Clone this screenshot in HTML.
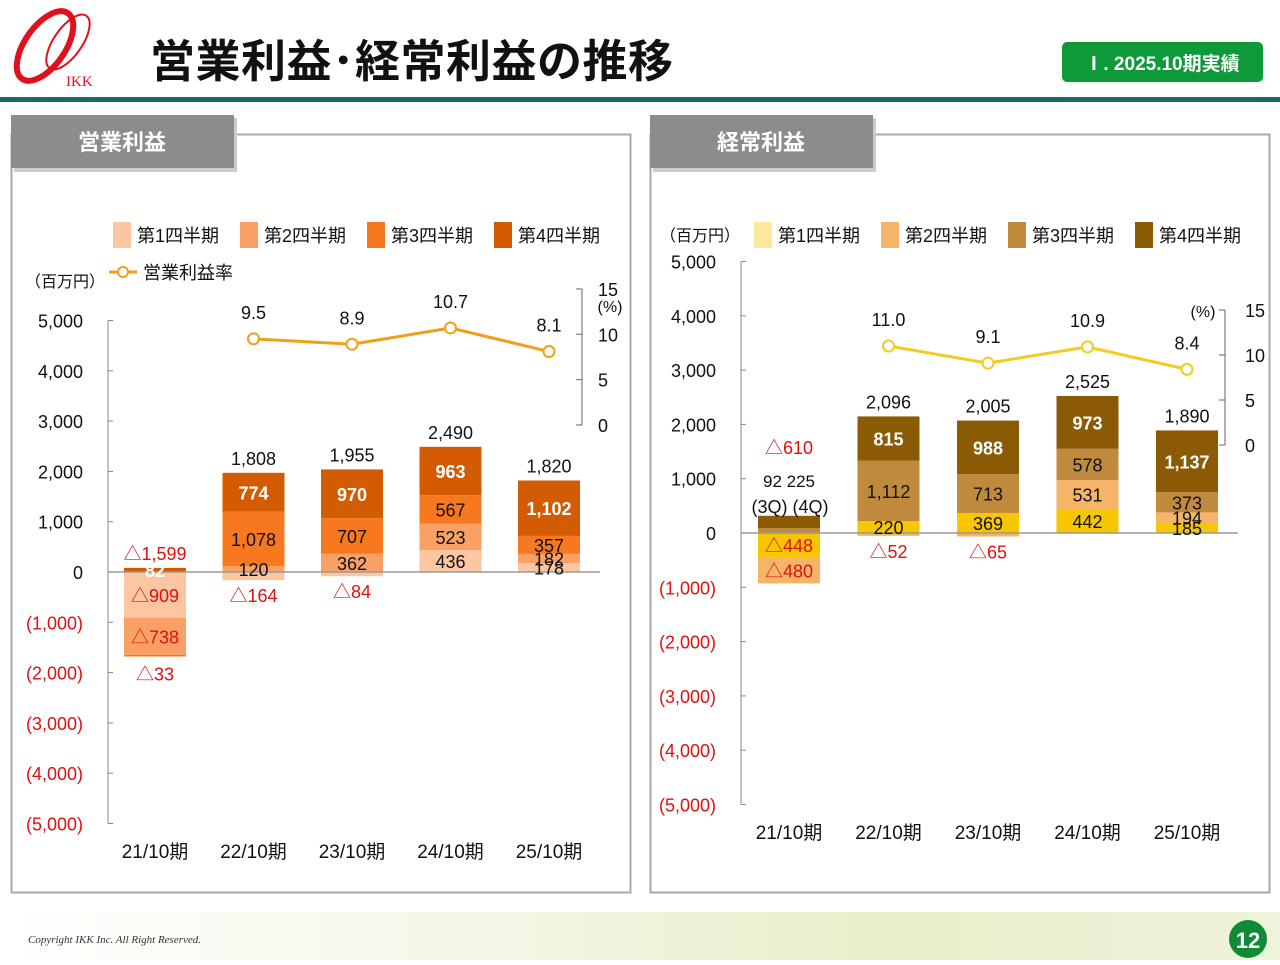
<!DOCTYPE html>
<html><head><meta charset="utf-8">
<style>
body{margin:0;background:#fff;}
svg text{font-family:"Liberation Sans","Noto Sans CJK JP",sans-serif;}
</style></head>
<body>
<svg id="s" width="1280" height="960" viewBox="0 0 1280 960" xmlns="http://www.w3.org/2000/svg">
<defs>
<linearGradient id="ft" x1="0" x2="1" y1="0" y2="0">
<stop offset="0" stop-color="#ffffff"/><stop offset="0.4" stop-color="#f2f6e4"/><stop offset="0.7" stop-color="#e6efc8"/><stop offset="1" stop-color="#eef3dc"/>
</linearGradient>
</defs>
<g>
<ellipse cx="45" cy="46" rx="20" ry="40" transform="rotate(35 45 46)" fill="none" stroke="#e0101c" stroke-width="6"/>
<ellipse cx="68" cy="42" rx="14" ry="32" transform="rotate(35 68 42)" fill="none" stroke="#e0101c" stroke-width="2"/>
<text x="66" y="86" font-size="15" fill="#e0101c" style="font-family:'Liberation Serif',serif">IKK</text>
</g>
<text x="150" y="77" font-size="45" font-weight="bold" fill="#111" letter-spacing="0.5">営業利益･経常利益の推移</text>
<rect x="1062" y="42" width="201" height="40" rx="5" fill="#0f9a3a"/>
<text x="1162" y="70" font-size="19" font-weight="bold" fill="#fff" text-anchor="middle">Ⅰ. 2025.10期実績</text>
<rect x="0" y="97" width="1280" height="5" fill="#1a6b64"/>

<g>
<rect x="11.5" y="134.5" width="619" height="758" fill="#fff" stroke="#aaa" stroke-width="2"/>
<rect x="14" y="118" width="223" height="54" fill="#ccc"/>
<rect x="11" y="115" width="223" height="53" fill="#8c8c8c"/>
<text x="122" y="150" font-size="22" font-weight="bold" fill="#fff" text-anchor="middle">営業利益</text>
</g>
<g>
<rect x="650.5" y="134.5" width="619" height="758" fill="#fff" stroke="#aaa" stroke-width="2"/>
<rect x="653" y="118" width="223" height="54" fill="#ccc"/>
<rect x="650" y="115" width="223" height="53" fill="#8c8c8c"/>
<text x="761" y="150" font-size="22" font-weight="bold" fill="#fff" text-anchor="middle">経常利益</text>
</g>
<g id="L"></g><g id="R"></g>

<rect x="0" y="912" width="1280" height="48" fill="url(#ft)"/>
<text x="28" y="943" font-size="11" font-style="italic" fill="#333" style="font-family:'Liberation Serif',serif">Copyright IKK Inc. All Right Reserved.</text>
<circle cx="1248" cy="939" r="19" fill="#0f8a35"/>
<text x="1248" y="948" font-size="22" font-weight="bold" fill="#fff" text-anchor="middle">12</text>
</svg>
<script>
const categories=["21/10期","22/10期","23/10期","24/10期","25/10期"];
const opQ1=[-909,-164,-84,436,178];
const opQ2=[-738,120,362,523,182];
const opQ3=[-33,1078,707,567,357];
const opQ4=[82,774,970,963,1102];
const opTotal=[-1599,1808,1955,2490,1820];
const opRate=[null,9.5,8.9,10.7,8.1];
const ordQ1=[-448,220,369,442,185];
const ordQ2=[-480,-52,-65,531,194];
const ordQ3=[92,1112,713,578,373];
const ordQ4=[225,815,988,973,1137];
const ordTotal=[-610,2096,2005,2525,1890];
const ordRate=[null,11.0,9.1,10.9,8.4];
const yTicks=[5000,4000,3000,2000,1000,0,-1000,-2000,-3000,-4000,-5000];
const rTicks=[15,10,5,0];
const NS="http://www.w3.org/2000/svg";
function mk(p,t,a,txt){const e=document.createElementNS(NS,t);for(const k in a)e.setAttribute(k,a[k]);if(txt!=null)e.textContent=txt;p.appendChild(e);return e;}
function fmt(v){const s=Math.abs(Math.round(v)).toLocaleString('en-US');return v<0?'△'+s:s;}
function ytk(v){const s=Math.abs(v).toLocaleString('en-US');return v<0?'('+s+')':s;}

function draw(g,cfg){
  const y=v=>cfg.y0-v*cfg.ys;
  const x=i=>cfg.x0+i*cfg.dx;
  const yr=v=>cfg.r0-v*cfg.rs;
  let a=mk(g,'line',{x1:cfg.ax,x2:cfg.ax,y1:y(5000),y2:y(-5000),stroke:'#888'});
  
  yTicks.forEach(v=>{
    mk(g,'line',{x1:cfg.ax,x2:cfg.ax+5,y1:y(v),y2:y(v),stroke:'#888'});
    const t=mk(g,'text',{x:cfg.ax-25,y:y(v)+7,'font-size':18,'text-anchor':'end',fill:v<0?'#e01010':'#111'},ytk(v));
    
  });
  categories.forEach((c,i)=>{
    const t=mk(g,'text',{x:x(i),y:cfg.catY,'font-size':19,'text-anchor':'middle',fill:'#111'},c);
    
  });
  mk(g,'line',{x1:cfg.rax,x2:cfg.rax,y1:yr(15),y2:yr(0),stroke:'#666'});
  rTicks.forEach(v=>{
    mk(g,'line',{x1:cfg.rax-6,x2:cfg.rax,y1:yr(v),y2:yr(v),stroke:'#666'});
    const t=mk(g,'text',{x:cfg.rax+cfg.rtx,y:yr(v)+7,'font-size':18,'text-anchor':'start',fill:'#111'},String(v));
    
  });
  const series=cfg.series, bw=62;
  const labels=[];
  categories.forEach((c,i)=>{
    let pos=0,neg=0;
    series.forEach((s,k)=>{
      const v=s[i];let top,bot;
      if(v>=0){bot=pos;top=pos+v;pos=top;}else{top=neg;bot=neg+v;neg=bot;}
      const r=mk(g,'rect',{x:x(i)-bw/2,y:y(top),width:bw,height:Math.max(0.5,y(bot)-y(top)),fill:cfg.colors[k]});
      
      
      const h=y(bot)-y(top);
      let ly=(y(top)+y(bot))/2+7;
      if(h<16 && v<0) ly=y(bot)+(k===2?24:22);
      if(!(cfg.skip&&cfg.skip(i,k))) labels.push([x(i),ly,v,k]);
    });
    const tv=cfg.total[i];
    const ty=y(pos)-8-(cfg.totalExtra?cfg.totalExtra(i):0);
    labels.push([x(i),ty,tv,-1]);
  });
  const z=mk(g,'line',{x1:cfg.ax,x2:cfg.zx2,y1:y(0),y2:y(0),stroke:'#999','stroke-width':1.5});
  
  labels.forEach(L=>{
    const [lx,ly,v,k]=L;
    const white=k>=0&&cfg.white[k]&&v>=0;
    const t=mk(g,'text',{x:lx,y:ly,'font-size':18,'text-anchor':'middle',fill:v<0?'#e01010':(white?'#fff':'#111'),'font-weight':white?'bold':'normal'},fmt(v));
    
  });
  let pts=[];cfg.rate.forEach((v,i)=>{if(v!=null)pts.push([x(i),yr(v),v]);});
  const pl=mk(g,'polyline',{points:pts.map(p=>p[0]+','+p[1]).join(' '),fill:'none',stroke:cfg.lineColor,'stroke-width':3});
  
  pts.forEach(p=>{
    const c=mk(g,'circle',{cx:p[0],cy:p[1],r:5.5,fill:'#fff',stroke:cfg.lineColor,'stroke-width':2});
    
    const t=mk(g,'text',{x:p[0],y:p[1]-cfg.rateOff,'font-size':18,'text-anchor':'middle',fill:'#111'},p[2].toFixed(1));
    
  });
  cfg.legend.forEach((l,k)=>{
    const lx=cfg.legX+k*127;
    const r=mk(g,'rect',{x:lx,y:cfg.legY-13,width:18,height:26,fill:cfg.legColors[k]});
    
    const t=mk(g,'text',{x:lx+24,y:cfg.legY+7,'font-size':18,fill:'#111'},l);
    
  });
}
const legend=["第1四半期","第2四半期","第3四半期","第4四半期"];
const L=document.getElementById('L'),R=document.getElementById('R');
draw(L,{y0:572,ys:0.0503,x0:155,dx:98.5,ax:108,zx2:600,catY:858,rax:582,rtx:16,r0:425,rs:9.07,
 series:[opQ1,opQ2,opQ3,opQ4],colors:['#fcc7a0','#f9a066','#f7781e','#d35c02'],legColors:['#fcc7a0','#f9a066','#f7781e','#d35c02'],
 white:[false,false,false,true],total:opTotal,rate:opRate,lineColor:'#f0a018',rateOff:20,legend:legend,legX:113,legY:235,
 totalExtra:i=>0});
draw(R,{y0:533,ys:0.0543,x0:789,dx:99.5,ax:741,zx2:1238,catY:839,rax:1225,rtx:20,r0:445,rs:9.0,
 series:[ordQ1,ordQ2,ordQ3,ordQ4],colors:['#f7c600','#f5b468','#c08a3c','#8b5a04'],legColors:['#fde79a','#f5b468','#c08a3c','#8b5a04'],
 white:[false,false,false,true],total:ordTotal,rate:ordRate,lineColor:'#f2cc20',rateOff:20,legend:legend,legX:754,legY:235,
 skip:(i,k)=>i===0&&k>=2,totalExtra:i=>i===0?54:0});
function tx(g,x,y,s,t,fill,anchor,name){const e=mk(g,'text',{x:x,y:y,'font-size':s,fill:fill||'#111','text-anchor':anchor||'start'},t);}
tx(L,25,287,16,"（百万円）",'#111','start','y-unit-label');
tx(L,610,312,16,"(%)",'#111','middle','rate-unit-label');
const lg=mk(L,'line',{x1:109,x2:137,y1:272,y2:272,stroke:'#f0a018','stroke-width':3});

mk(L,'circle',{cx:123,cy:272,r:5,fill:'#fff',stroke:'#f0a018','stroke-width':2});
tx(L,143,279,18,"営業利益率",'#111','start','legend-entry');
tx(R,660,241,16,"（百万円）",'#111','start','y-unit-label');
tx(R,1203,317,16,"(%)",'#111','middle','rate-unit-label');
tx(R,789,487,17,"92  225",'#111','middle','q3-q4-values');
tx(R,790,513,18,"(3Q) (4Q)",'#111','middle','q3-q4-note');
</script>
</body></html>
